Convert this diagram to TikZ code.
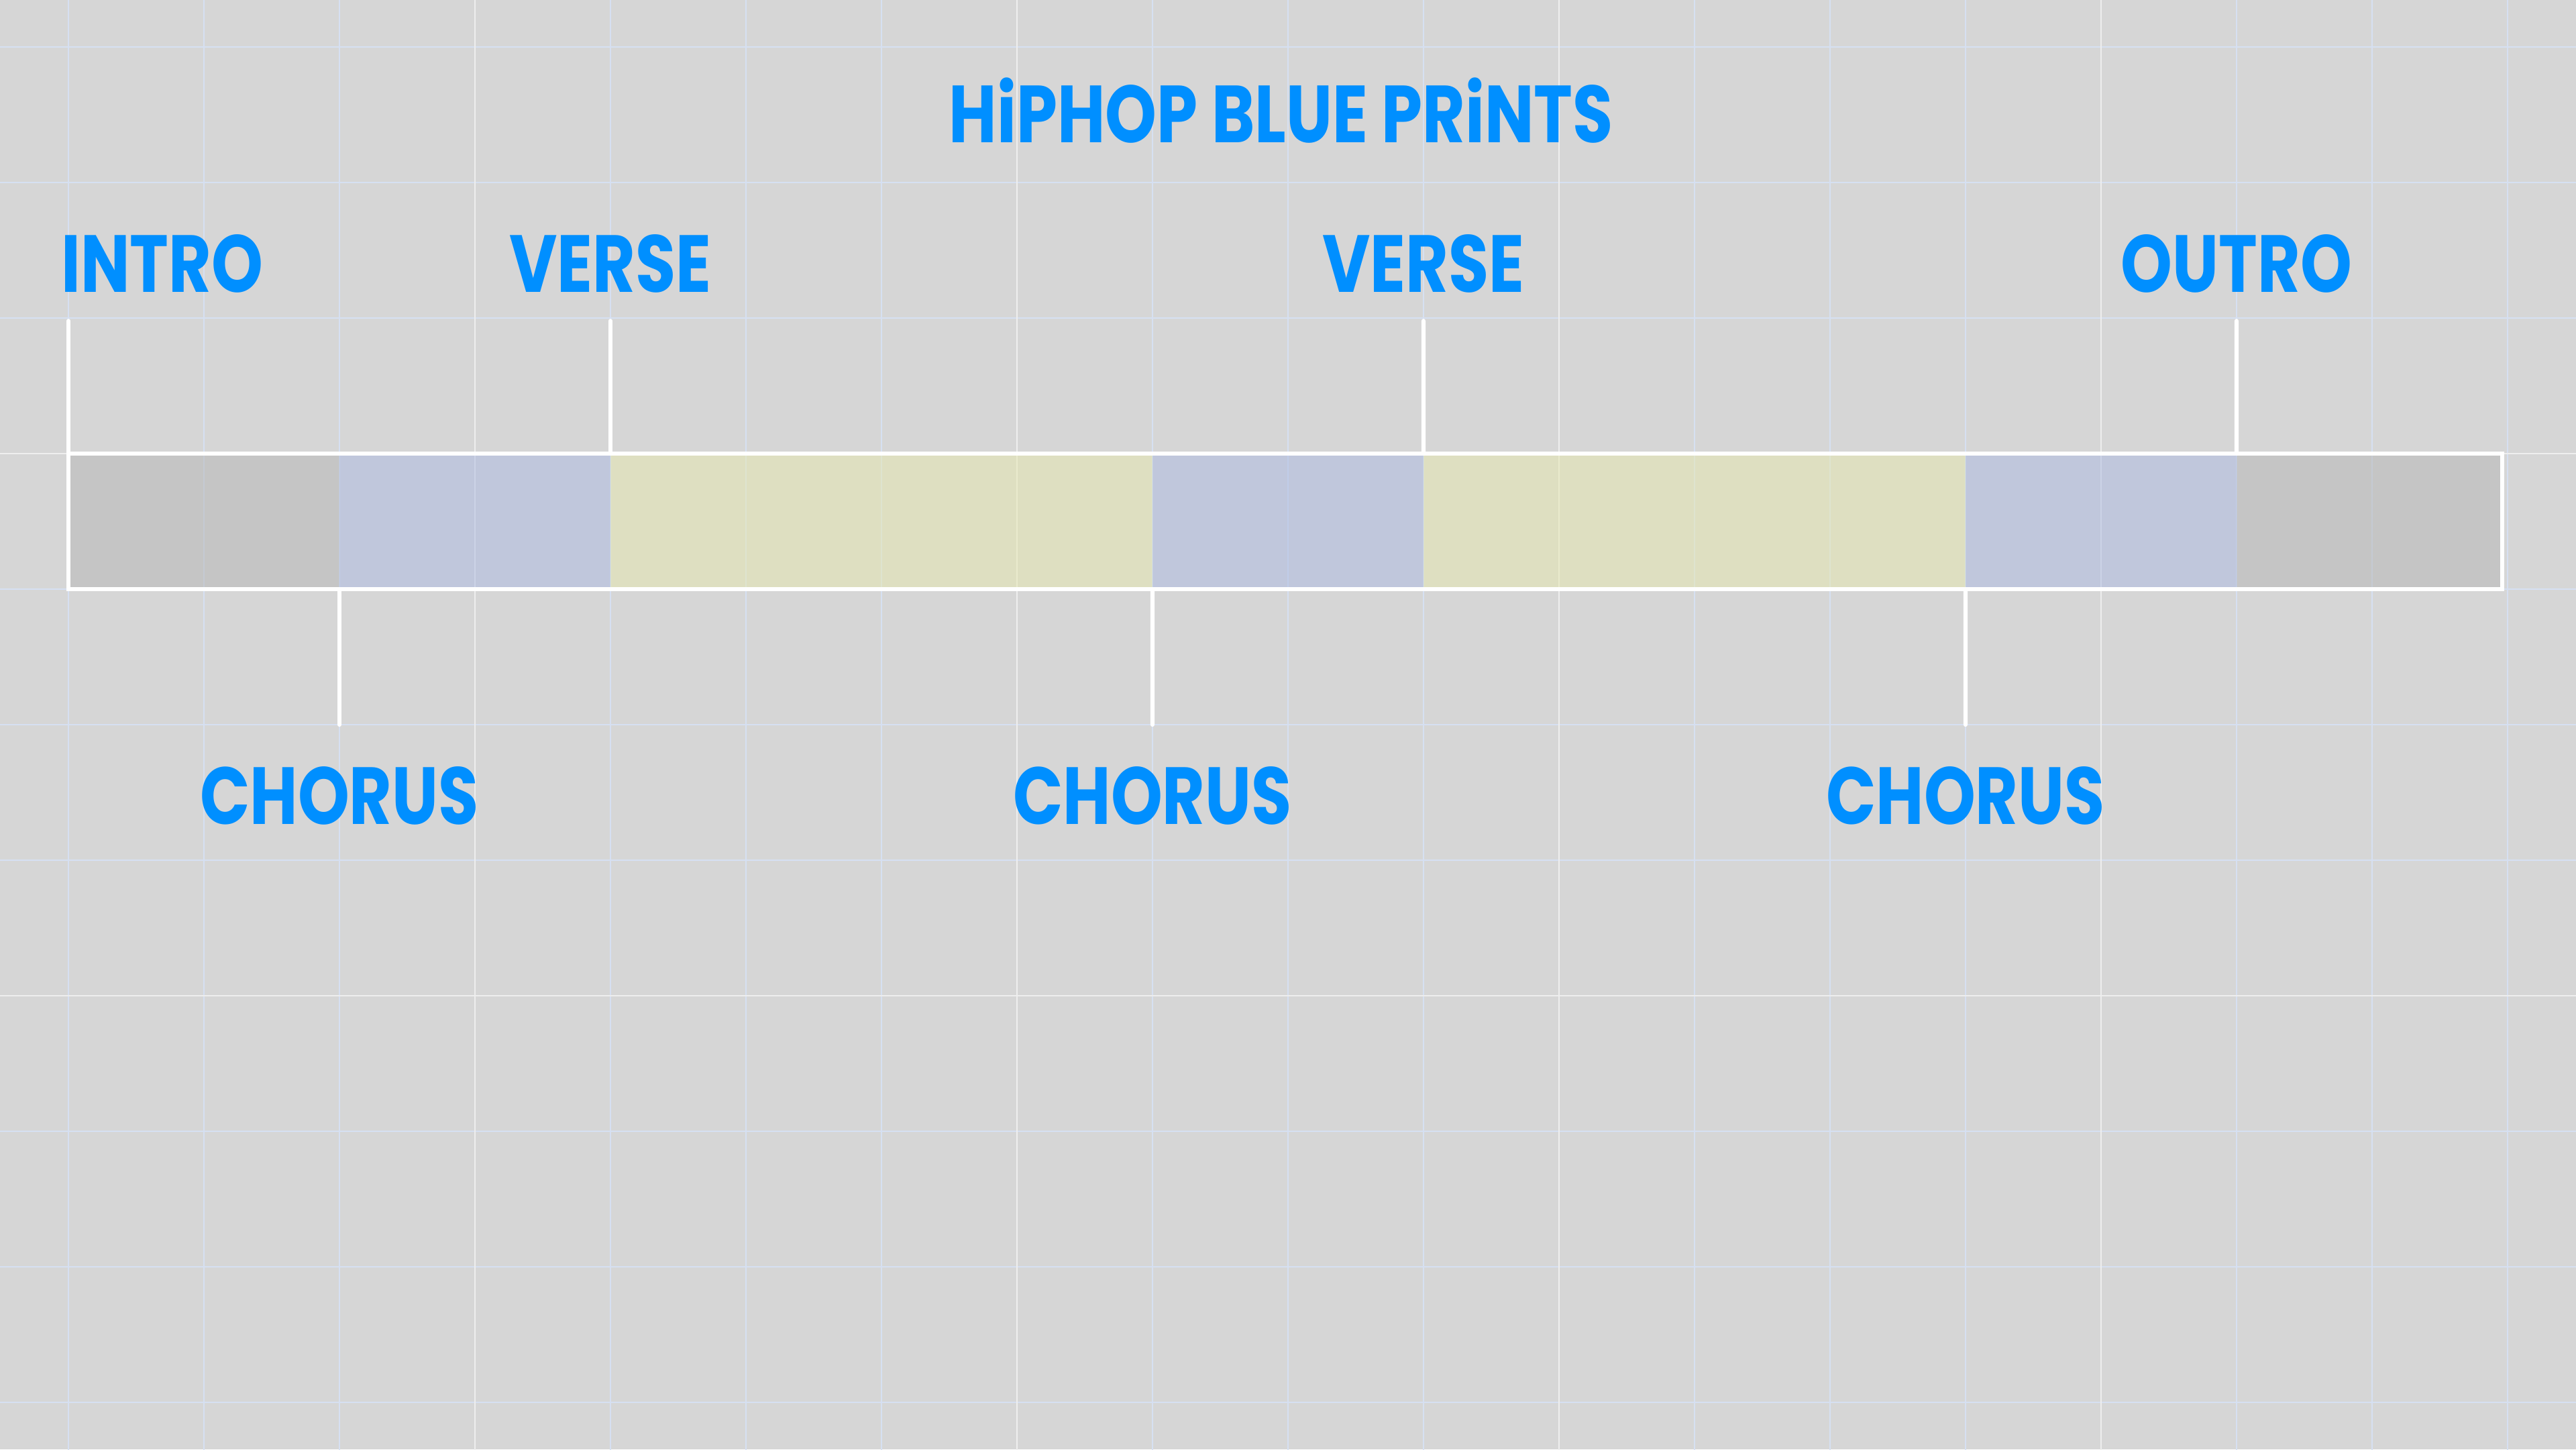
\documentclass[tikz,border=0pt]{standalone}
\usepackage{fontspec}
\newfontfamily\blueprintfont[FakeStretch=0.81]{Poppins}
\usetikzlibrary{positioning}

\definecolor{bggray}{RGB}{214,214,214}
\definecolor{minorline}{RGB}{214,224,242}
\definecolor{majorline}{RGB}{238,238,238}
\definecolor{labelblue}{RGB}{0,143,255}
\definecolor{introgray}{RGB}{182,182,182}
\definecolor{chorusblue}{RGB}{172,186,226}
\definecolor{verseyellow}{RGB}{230,232,174}

\begin{document}
\begin{tikzpicture}[
      font=\blueprintfont\bfseries,
      node distance=2mm,
      segment/.style={
        draw=none,
        inner sep=0pt,
        outer sep=0pt,
        minimum height=10mm,
        fill opacity=0.5
      },
      partlabel/.style={
        text=labelblue,
        inner sep=0pt,
        font=\blueprintfont\bfseries\fontsize{17}{20}\selectfont
      },
      minorgrid/.style={draw=minorline, line width=0.25pt},
      majorgrid/.style={draw=majorline, line width=0.35pt},
      barframe/.style={draw=white, line width=0.85pt},
      tick/.style={draw=white, line width=0.85pt, line cap=round}
    ]

    % Background and grid
    \useasboundingbox (-9.505,-5.347) rectangle (9.505,5.347);
    \fill[bggray] (-9.505,-5.347) rectangle (9.505,5.347);
    \foreach \x in {-9,...,9}
      \draw[minorgrid] (\x,-5.4) -- (\x,5.4);
    \foreach \y in {-5,...,5}
      \draw[minorgrid] (-9.6,\y) -- (9.6,\y);
    \foreach \x in {-6,-2,2,6}
      \draw[majorgrid] (\x,-5.4) -- (\x,5.4);
    \foreach \y in {-2,2}
      \draw[majorgrid] (-9.6,\y) -- (9.6,\y);

    % Song parts
    \node[segment, fill=introgray, minimum width=20mm] (Sintro) at (-8,1.5) {};
    \node[segment, fill=chorusblue, minimum width=20mm, right=0pt of Sintro] (SchorusA) {};
    \node[segment, fill=verseyellow, minimum width=40mm, right=0pt of SchorusA] (SverseA) {};
    \node[segment, fill=chorusblue, minimum width=20mm, right=0pt of SverseA] (SchorusB) {};
    \node[segment, fill=verseyellow, minimum width=40mm, right=0pt of SchorusB] (SverseB) {};
    \node[segment, fill=chorusblue, minimum width=20mm, right=0pt of SverseB] (SchorusC) {};
    \node[segment, fill=introgray, minimum width=19.6mm, right=0pt of SchorusC] (Soutro) {};
    \draw[barframe] (Sintro.north west) rectangle (Soutro.south east);

    % Tick ends
    \coordinate (Tintro) at (-9,2.98);
    \coordinate (TverseA) at (-5,2.98);
    \coordinate (TverseB) at (1,2.98);
    \coordinate (Toutro) at (7,2.98);
    \coordinate (TchorusA) at (-7,0);
    \coordinate (TchorusB) at (-1,0);
    \coordinate (TchorusC) at (5,0);

    \draw[tick] (Sintro.north west) -- (Tintro);
    \draw[tick] (SverseA.north west) -- (TverseA);
    \draw[tick] (SverseB.north west) -- (TverseB);
    \draw[tick] (Soutro.north west) -- (Toutro);
    \draw[tick] (SchorusA.south west) -- (TchorusA);
    \draw[tick] (SchorusB.south west) -- (TchorusB);
    \draw[tick] (SchorusC.south west) -- (TchorusC);

    % Labels
    \node[partlabel] (title) at (-0.05,4.53) {HiPHOP BLUE PRiNTS};
    \node[partlabel, above right=2mm and -0.6mm of Tintro] (Lintro) {INTRO};
    \node[partlabel, above=2mm of TverseA] (LverseA) {VERSE};
    \node[partlabel, above=2mm of TverseB] (LverseB) {VERSE};
    \node[partlabel, above=2mm of Toutro] (Loutro) {OUTRO};
    \node[partlabel, below=3mm of TchorusA] (LchorusA) {CHORUS};
    \node[partlabel, below=3mm of TchorusB] (LchorusB) {CHORUS};
    \node[partlabel, below=3mm of TchorusC] (LchorusC) {CHORUS};

  \end{tikzpicture}
\end{document}
